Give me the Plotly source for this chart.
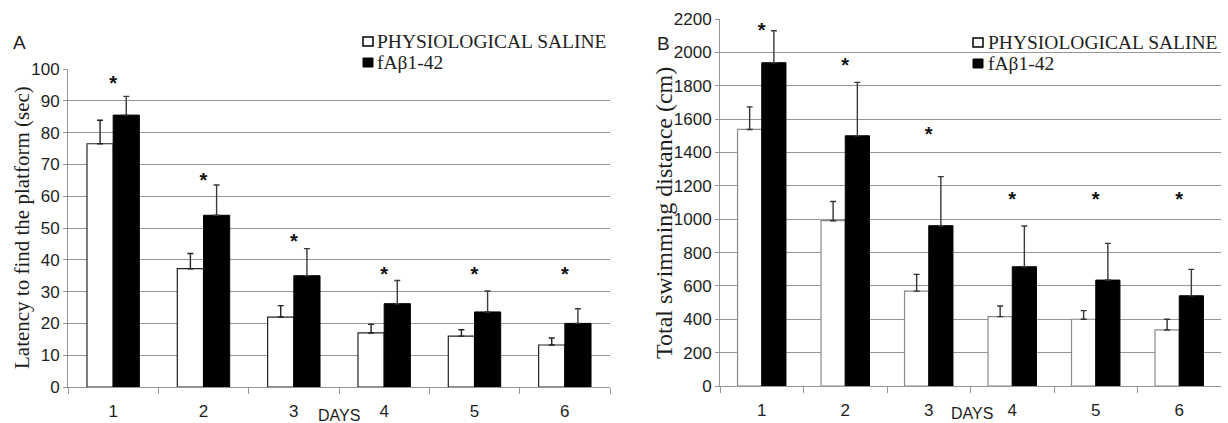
import plotly.graph_objects as go

days = ["1", "2", "3", "4", "5", "6"]

# Panel A: latency (sec)
lat_saline = [76.5, 37.2, 22.0, 17.0, 16.0, 13.2]
lat_saline_err = [7.4, 4.8, 3.6, 2.7, 2.0, 2.2]
lat_abeta = [85.5, 54.0, 35.0, 26.2, 23.6, 20.0]
lat_abeta_err = [5.9, 9.5, 8.5, 7.3, 6.6, 4.6]
lat_star = [95.1, 64.6, 45.4, 34.9, 34.9, 34.9]

# Panel B: total swimming distance (cm)
dist_saline = [1538, 991, 569, 416, 400, 336]
dist_saline_err = [135, 115, 100, 64, 52, 64]
dist_abeta = [1938, 1500, 961, 715, 635, 541]
dist_abeta_err = [192, 320, 294, 244, 220, 158]
dist_star = [2123, 1911, 1497, 1108, 1108, 1108]

W, H = 1228, 423
GRID = "#969696"
SANS = "Liberation Sans, Arial, sans-serif"
SERIF = "Liberation Serif, Times New Roman, serif"
TXT = "#1e1e1e"


def px(x):
    return x / W


def py(y):
    return 1 - y / H


fig = go.Figure()


def add_panel(xa, ya, sal, sal_err, ab, ab_err, stars, sal_line, sal_err_col):
    fig.add_trace(go.Bar(
        x=days, y=sal, xaxis=xa, yaxis=ya, showlegend=False,
        marker=dict(color="white", line=dict(color=sal_line, width=1.2)),
        error_y=dict(type="data", symmetric=False, array=sal_err,
                     arrayminus=[0] * len(sal), color=sal_err_col,
                     thickness=1.4, width=3),
    ))
    fig.add_trace(go.Bar(
        x=days, y=ab, xaxis=xa, yaxis=ya, showlegend=False,
        marker=dict(color="black", line=dict(color="black", width=1)),
        error_y=dict(type="data", symmetric=False, array=ab_err,
                     arrayminus=[0] * len(ab), color="#3a3a3a",
                     thickness=1.4, width=3),
    ))
    fig.add_trace(go.Scatter(
        x=days, y=stars, xaxis=xa, yaxis=ya, mode="text", showlegend=False,
        text=["<b>*</b>"] * len(days), textposition="middle center",
        textfont=dict(family=SANS, size=20, color="#111"),
    ))


add_panel("x", "y", lat_saline, lat_saline_err, lat_abeta, lat_abeta_err,
          lat_star, "#222", "#222")
add_panel("x2", "y2", dist_saline, dist_saline_err, dist_abeta, dist_abeta_err,
          dist_star, "#8a8a8a", "#333")

xcommon = dict(type="category", showgrid=False, showline=True, linecolor=GRID,
               linewidth=1, ticks="outside", tickson="boundaries", ticklen=6,
               tickcolor=GRID, ticklabelstandoff=9,
               tickfont=dict(family=SANS, size=17, color=TXT),
               automargin=False, zeroline=False)
ycommon = dict(showgrid=True, gridcolor=GRID, gridwidth=1, showline=True,
               linecolor=GRID, linewidth=1, ticks="outside", ticklen=4,
               tickcolor=GRID, tickfont=dict(family=SANS, size=17, color=TXT),
               automargin=False, zeroline=False)

fig.update_layout(
    width=W, height=H,
    margin=dict(l=0, r=0, t=0, b=0),
    paper_bgcolor="white", plot_bgcolor="white",
    barmode="group", bargap=0.42, bargroupgap=0,
    xaxis=dict(domain=[px(68), px(610)], anchor="y", **xcommon),
    yaxis=dict(domain=[py(387), py(69)], anchor="x", range=[0, 100],
               dtick=10, **ycommon),
    xaxis2=dict(domain=[px(720), px(1221)], anchor="y2", **xcommon),
    yaxis2=dict(domain=[py(386), py(19)], anchor="x2", range=[0, 2200],
                dtick=200, **ycommon),
)

ann = []
# panel letters
ann.append(dict(text="A", x=px(11), y=py(42), xref="paper", yref="paper",
                xanchor="left", yanchor="middle", showarrow=False,
                font=dict(family=SANS, size=19, color=TXT)))
ann.append(dict(text="B", x=px(655), y=py(43), xref="paper", yref="paper",
                xanchor="left", yanchor="middle", showarrow=False,
                font=dict(family=SANS, size=19, color=TXT)))
# axis titles
ann.append(dict(text="Latency to find the platform (sec)", x=px(22), y=py(228),
                xref="paper", yref="paper", xanchor="center", yanchor="middle",
                textangle=-90, showarrow=False,
                font=dict(family=SERIF, size=21, color=TXT)))
ann.append(dict(text="Total swimming distance (cm)", x=px(664), y=py(213),
                xref="paper", yref="paper", xanchor="center", yanchor="middle",
                textangle=-90, showarrow=False,
                font=dict(family=SERIF, size=24, color=TXT)))
# DAYS labels
ann.append(dict(text="DAYS", x=px(339), y=py(415), xref="paper", yref="paper",
                xanchor="center", yanchor="middle", showarrow=False,
                font=dict(family=SANS, size=16, color=TXT)))
ann.append(dict(text="DAYS", x=px(972), y=py(413), xref="paper", yref="paper",
                xanchor="center", yanchor="middle", showarrow=False,
                font=dict(family=SANS, size=16, color=TXT)))

shapes = []
legend_pos = [(363, 375, 41.5, 62.5), (973, 986, 42.5, 63.5)]
for (sq_x, tx, y1, y2) in legend_pos:
    shapes.append(dict(type="rect", xref="paper", yref="paper",
                       x0=px(sq_x), x1=px(sq_x + 10), y0=py(y1 + 4.5), y1=py(y1 - 4.5),
                       fillcolor="white", line=dict(color="black", width=1.5)))
    shapes.append(dict(type="rect", xref="paper", yref="paper",
                       x0=px(sq_x), x1=px(sq_x + 10), y0=py(y2 + 4.5), y1=py(y2 - 4.5),
                       fillcolor="black", line=dict(color="black", width=1)))
    ann.append(dict(text="PHYSIOLOGICAL SALINE", x=px(tx), y=py(y1),
                    xref="paper", yref="paper", xanchor="left", yanchor="middle",
                    showarrow=False, font=dict(family=SERIF, size=19.5, color=TXT)))
    ann.append(dict(text="fAβ1-42", x=px(tx), y=py(y2),
                    xref="paper", yref="paper", xanchor="left", yanchor="middle",
                    showarrow=False, font=dict(family=SERIF, size=19.5, color=TXT)))

fig.update_layout(annotations=ann, shapes=shapes)

fig.write_html("out.html")
